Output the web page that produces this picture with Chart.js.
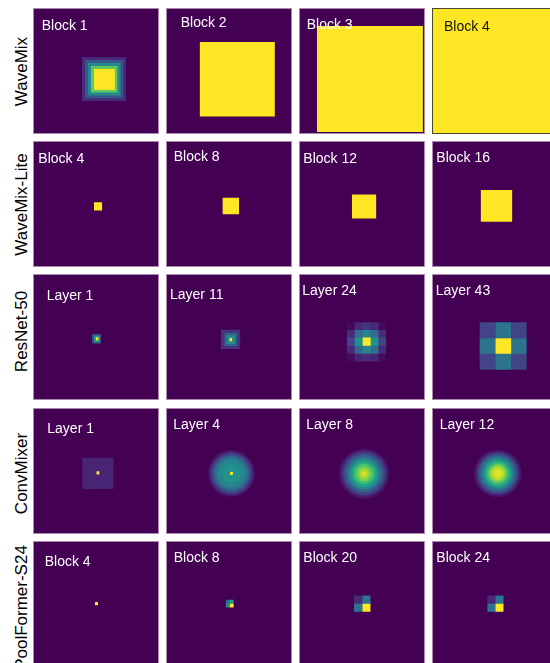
<!DOCTYPE html>
<html>
<head>
<meta charset="utf-8">
<script src="https://cdn.jsdelivr.net/npm/chart.js@4.4.1/dist/chart.umd.min.js"></script>
<style>
  html, body { margin: 0; padding: 0; background: #fff; overflow: hidden; width: 550px; height: 663px; }
  #fig { position: relative; width: 550px; height: 663px; overflow: hidden;
         font-family: "Liberation Sans", Arial, Helvetica, sans-serif; }
  .panel { position: absolute; width: 126px; height: 126px; background: #440154; }
  .panel canvas { position: absolute; left: 0; top: 0; }
  .frame { position: absolute; left: 0; top: 0; width: 126px; height: 126px; box-sizing: border-box;
           border: 1px solid #a98ba9; pointer-events: none; }
  .ptitle { position: absolute; font-size: 14px; line-height: 14px; color: #fff; white-space: nowrap; }
  .rlabel { position: absolute; width: 200px; height: 17px; font-size: 17px; line-height: 17px;
            text-align: center; color: #000; white-space: nowrap; transform: rotate(-90deg); }
</style>
</head>
<body>
<div id="fig"></div>
<script>
// Effective receptive field maps, one 42x42 response grid per panel.
// Shapes: ['R', x0, x1, y0, y1, response]  square/rectangle
//         ['D', cx, cy, radius, response]  disc
//         ['G', xEdges, yEdges, responses] block of cells
// Response is normalised to 0..1 and coloured with viridis.

const rowLabels = ['WaveMix', 'WaveMix-Lite', 'ResNet-50', 'ConvMixer', 'PoolFormer-S24'];

const panelTitles = [
  ['Block 1', 'Block 2', 'Block 3', 'Block 4'],
  ['Block 4', 'Block 8', 'Block 12', 'Block 16'],
  ['Layer 1', 'Layer 11', 'Layer 24', 'Layer 43'],
  ['Layer 1', 'Layer 4', 'Layer 8', 'Layer 12'],
  ['Block 4', 'Block 8', 'Block 20', 'Block 24'],
];

const waveMixMaps = [
  [['R', 16.3, 31.0, 16.3, 31.0, 0.12], ['R', 17.3, 30.1, 17.3, 30.1, 0.27],
   ['R', 18.3, 29.2, 18.3, 29.2, 0.47], ['R', 19.3, 28.2, 19.3, 28.2, 0.75],
   ['R', 20.3, 27.3, 20.3, 27.3, 1.0]],
  [['R', 11.2, 36.3, 11.3, 36.2, 1.0]],
  [['R', 6.0, 41.3, 6.0, 41.3, 1.0]],
  [['R', 0, 42, 0, 42, 1.0]],
];

const waveMixLiteMaps = [
  [['R', 20.3, 23.1, 20.4, 23.2, 1.0]],
  [['R', 18.8, 24.4, 18.9, 24.4, 1.0]],
  [['R', 17.6, 25.8, 17.8, 25.8, 1.0]],
  [['R', 16.2, 26.8, 16.3, 26.9, 1.0]],
];

const resNetMaps = [
  [['R', 19.7, 22.7, 20.0, 23.2, 0.22], ['R', 20.2, 22.3, 20.5, 22.8, 0.52],
   ['R', 20.9, 21.9, 21.1, 22.2, 0.97]],
  [['R', 18.3, 24.8, 18.6, 25.0, 0.14], ['R', 19.4, 23.8, 19.6, 24.0, 0.3],
   ['R', 20.1, 23.1, 20.3, 23.4, 0.48], ['R', 21.1, 22.1, 21.3, 22.4, 1.0]],
  [['G', [15.9, 18.5, 21.15, 23.8, 26.45, 29.1], [16.1, 18.7, 21.2, 23.9, 26.55, 29.2],
    [[0.03, 0.12, 0.15, 0.12, 0.03],
     [0.12, 0.35, 0.45, 0.35, 0.12],
     [0.2, 0.5, 1.0, 0.5, 0.2],
     [0.12, 0.35, 0.45, 0.35, 0.12],
     [0.03, 0.1, 0.12, 0.1, 0.03]]]],
  [['G', [15.8, 21.1, 26.4, 31.6], [16.1, 21.4, 26.6, 31.9],
    [[0.2, 0.38, 0.2],
     [0.38, 1.0, 0.38],
     [0.2, 0.38, 0.2]]]],
];

const convMixerMaps = [
  [['R', 16.4, 26.9, 16.6, 27.0, 0.1], ['R', 21.1, 22.2, 21.1, 22.2, 1.0]],
  [['D', 21.8, 21.8, 7.8, 0.06], ['D', 21.8, 21.8, 7.2, 0.13], ['D', 21.8, 21.8, 6.6, 0.21],
   ['D', 21.8, 21.8, 6.0, 0.3], ['D', 21.8, 21.8, 5.4, 0.39], ['D', 21.8, 21.8, 4.6, 0.45],
   ['D', 21.8, 21.8, 3.2, 0.5], ['R', 21.3, 22.3, 21.3, 22.3, 1.0]],
  [['D', 21.7, 21.9, 8.4, 0.05], ['D', 21.7, 21.9, 7.7, 0.12], ['D', 21.7, 21.9, 7.0, 0.22],
   ['D', 21.7, 21.9, 6.2, 0.32], ['D', 21.7, 21.9, 5.3, 0.45], ['D', 21.7, 21.9, 4.4, 0.58],
   ['D', 21.7, 21.9, 3.5, 0.7], ['D', 21.7, 21.9, 2.5, 0.8], ['D', 21.7, 21.9, 1.5, 0.88],
   ['D', 21.7, 21.9, 0.6, 0.96]],
  [['D', 21.9, 21.8, 8.0, 0.05], ['D', 21.9, 21.8, 7.3, 0.13], ['D', 21.9, 21.8, 6.6, 0.25],
   ['D', 21.9, 21.8, 5.8, 0.38], ['D', 21.9, 21.8, 4.9, 0.52], ['D', 21.9, 21.8, 4.0, 0.66],
   ['D', 21.9, 21.8, 3.1, 0.8], ['D', 21.9, 21.8, 2.2, 0.9], ['D', 21.9, 21.8, 1.2, 0.95]],
];

const poolFormerMaps = [
  [['R', 20.6, 21.7, 20.3, 21.4, 1.0]],
  [['G', [19.9, 21.2, 22.6], [19.6, 20.9, 22.2], [[0.38, 0.55], [0.48, 1.0]]]],
  [['G', [18.3, 21.1, 23.9], [18.2, 20.9, 23.6], [[0.12, 0.38], [0.38, 1.0]]]],
  [['G', [18.4, 21.1, 23.9], [18.2, 20.9, 23.6], [[0.12, 0.38], [0.38, 1.0]]]],
];

const allMaps = [waveMixMaps, waveMixLiteMaps, resNetMaps, convMixerMaps, poolFormerMaps];

// ---- layout ----
const GRID = 42;
const PANEL = 126;
const CELL_OVERLAP = 0.2;   // hides anti-aliasing seams between neighbouring cells
const colLeft = [33, 166, 299, 432];
const rowTop = [8, 141, 274, 408, 541];
const rowLabelY = [71, 204.7, 331.7, 473.3, 607.5];
const rowLabelX = 20.6;
// title offset inside each panel (left, top)
const titleOffsets = [
  [[8.7, 10], [14.7, 7.4], [7.7, 9], [12, 10.8]],
  [[5.3, 10.4], [7.7, 8], [4.3, 10.4], [4.3, 8.8]],
  [[13.7, 13.8], [4, 12.8], [3.3, 9.4], [3.7, 9.4]],
  [[14.3, 13.4], [7.3, 9.1], [7.3, 9.1], [7.7, 9.1]],
  [[11.7, 13.1], [7.7, 8.8], [4.3, 8.8], [4.3, 8.8]],
];

// ---- viridis ----
const VIRIDIS = ['#440154', '#482475', '#414487', '#355f8d', '#2a788e', '#21918c',
                 '#22a884', '#44bf70', '#7ad151', '#bddf26', '#fde725'];
function hexRgb(h) { return [1, 3, 5].map(i => parseInt(h.substr(i, 2), 16)); }
function viridis(v) {
  v = Math.max(0, Math.min(1, v));
  const p = v * 10, i = Math.min(9, Math.floor(p)), t = p - i;
  const a = hexRgb(VIRIDIS[i]), b = hexRgb(VIRIDIS[i + 1]);
  const c = a.map((x, k) => Math.round(x + (b[k] - x) * t));
  return `rgb(${c[0]},${c[1]},${c[2]})`;
}

// ---- shapes -> Chart.js datasets ----
function expandShapes(shapes) {
  const out = [];
  shapes.forEach(s => {
    if (s[0] === 'G') {
      const [, xe, ye, vals] = s;
      const nr = vals.length;
      vals.forEach((row, r) => row.forEach((v, c) => {
        if (v <= 0.01) return;
        const padX = c < row.length - 1 ? CELL_OVERLAP : 0;
        const padY = r < nr - 1 ? CELL_OVERLAP : 0;
        out.push(['R', xe[c], xe[c + 1] + padX, ye[r], ye[r + 1] + padY, v]);
      }));
    } else {
      out.push(s);
    }
  });
  return out;
}

function rectDataset(s, order) {
  const [, x0, x1, y0, y1, v] = s;
  const col = viridis(v);
  return {
    data: [{ x: x0, y: y0 }, { x: x1, y: y0 }],
    fill: { value: y1 },
    backgroundColor: col,
    borderColor: 'rgba(0,0,0,0)',
    borderWidth: 0,
    pointRadius: 0,
    pointHoverRadius: 0,
    tension: 0,
    order: order,
  };
}

function discDataset(s, order) {
  const [, cx, cy, r, v] = s;
  const col = viridis(v);
  const rad = (ctx) => {
    const sx = ctx.chart.scales.x;
    return Math.abs(sx.getPixelForValue(r) - sx.getPixelForValue(0));
  };
  return {
    data: [{ x: cx, y: cy }],
    showLine: false,
    fill: false,
    pointStyle: 'circle',
    pointRadius: rad,
    pointHoverRadius: rad,
    pointBackgroundColor: col,
    pointBorderColor: 'rgba(0,0,0,0)',
    pointBorderWidth: 0,
    order: order,
  };
}

const fig = document.getElementById('fig');

rowLabels.forEach((label, r) => {
  const d = document.createElement('div');
  d.className = 'rlabel';
  d.textContent = label;
  d.style.left = (rowLabelX - 100) + 'px';
  d.style.top = (rowLabelY[r] - 8.5) + 'px';
  fig.appendChild(d);
});

allMaps.forEach((rowMaps, r) => {
  rowMaps.forEach((shapes, c) => {
    const panel = document.createElement('div');
    panel.className = 'panel';
    panel.style.left = colLeft[c] + 'px';
    panel.style.top = rowTop[r] + 'px';
    const canvas = document.createElement('canvas');
    canvas.width = PANEL;
    canvas.height = PANEL;
    canvas.style.width = PANEL + 'px';
    canvas.style.height = PANEL + 'px';
    panel.appendChild(canvas);

    const full = shapes.some(s => s[0] === 'R' && s[1] <= 0 && s[2] >= GRID && s[3] <= 0 && s[4] >= GRID);
    const frame = document.createElement('div');
    frame.className = 'frame';
    if (full) frame.style.borderColor = '#4a4a2c';
    panel.appendChild(frame);

    const title = document.createElement('div');
    title.className = 'ptitle';
    title.textContent = panelTitles[r][c];
    title.style.left = titleOffsets[r][c][0] + 'px';
    title.style.top = titleOffsets[r][c][1] + 'px';
    if (full) title.style.color = '#111';
    panel.appendChild(title);
    fig.appendChild(panel);

    const list = expandShapes(shapes);
    const datasets = list.map((s, i) => s[0] === 'D' ? discDataset(s, -i) : rectDataset(s, -i));

    new Chart(canvas, {
      type: 'line',
      data: { datasets },
      options: {
        responsive: false,
        animation: false,
        events: [],
        devicePixelRatio: 1,
        layout: { padding: 0 },
        plugins: { legend: { display: false }, tooltip: { enabled: false } },
        scales: {
          x: { type: 'linear', min: 0, max: GRID, display: false },
          y: { type: 'linear', min: 0, max: GRID, reverse: true, display: false },
        },
      },
    });
  });
});
</script>
</body>
</html>
